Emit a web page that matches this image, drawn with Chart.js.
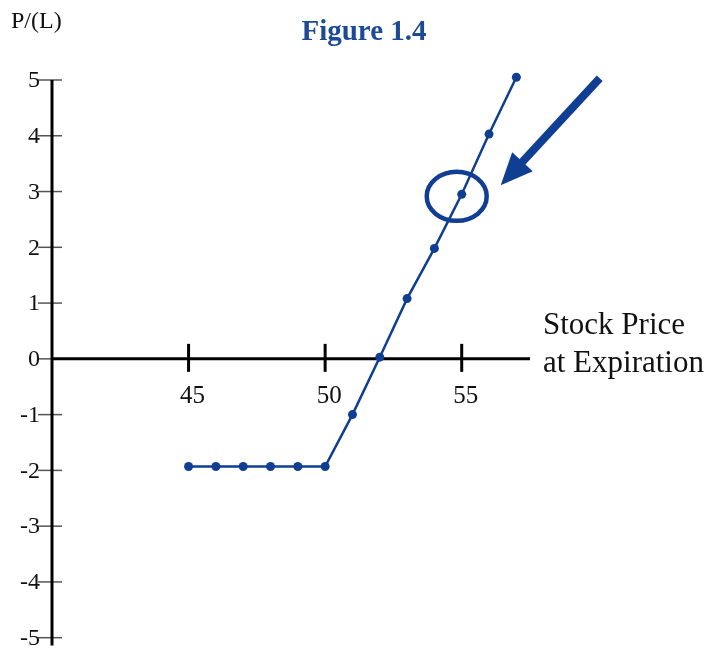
<!DOCTYPE html>
<html>
<head>
<meta charset="utf-8">
<script src="https://cdn.jsdelivr.net/npm/chart.js@4/dist/chart.umd.min.js"></script>
<style>
  html, body { margin: 0; padding: 0; background: #fff; }
  canvas { display: block; }
</style>
</head>
<body>
<canvas id="grafico" width="712" height="650"></canvas>
<script>
// DATOS
const precios = [45, 46, 47, 48, 49, 50, 51, 52, 53, 54, 55, 56, 57];
const gananciaPerdida = [-1.93, -1.93, -1.93, -1.93, -1.93, -1.93, -1.0, 0.03, 1.08, 1.98, 2.95, 4.03, 5.05];
const ticksY = [5, 4, 3, 2, 1, 0, -1, -2, -3, -4, -5];
const ticksX = [45, 50, 55];
const precioMarcado = 55;

const azul = '#0f3e92';
const fuente = '"Liberation Serif", "DejaVu Serif", serif';

// Ejes, etiquetas y marcas dibujados con las escalas del gráfico
const ejesPlugin = {
    id: 'ejes',
    beforeDatasetsDraw(chart) {
        const ctx = chart.ctx;
        const x = chart.scales.x;
        const y = chart.scales.y;
        const x0 = x.getPixelForValue(40);
        const y0 = y.getPixelForValue(0);
        ctx.save();

        // marcas del eje Y
        ctx.strokeStyle = '#555';
        ctx.lineWidth = 1.5;
        ticksY.forEach(v => {
            const py = y.getPixelForValue(v);
            ctx.beginPath();
            ctx.moveTo(x0 - 14, py);
            ctx.lineTo(x0 + 10, py);
            ctx.stroke();
        });

        // eje Y
        ctx.strokeStyle = '#000';
        ctx.lineWidth = 3;
        ctx.beginPath();
        ctx.moveTo(x0, y.getPixelForValue(5));
        ctx.lineTo(x0, chart.chartArea.bottom);
        ctx.stroke();

        // eje X
        ctx.beginPath();
        ctx.moveTo(x0, y0);
        ctx.lineTo(chart.chartArea.right, y0);
        ctx.stroke();

        ticksX.forEach(v => {
            const px = x.getPixelForValue(v);
            ctx.beginPath();
            ctx.moveTo(px, y0 - 15);
            ctx.lineTo(px, y0 + 13);
            ctx.stroke();
        });

        // textos
        ctx.fillStyle = '#111';
        ctx.font = '24px ' + fuente;
        ctx.textAlign = 'right';
        ctx.textBaseline = 'middle';
        ticksY.forEach(v => {
            ctx.fillText(String(v), x0 - 12, y.getPixelForValue(v) + 1);
        });

        ctx.textAlign = 'center';
        ctx.font = '25px ' + fuente;
        ticksX.forEach(v => {
            ctx.fillText(String(v), x.getPixelForValue(v) + 4, y0 + 38);
        });

        ctx.textAlign = 'left';
        ctx.font = '24px ' + fuente;
        ctx.fillText('P/(L)', 11, 22);

        ctx.font = '31px ' + fuente;
        ctx.textBaseline = 'alphabetic';
        ctx.fillText('Stock Price', 543, 334);
        ctx.fillText('at Expiration', 543, 372);

        ctx.fillStyle = '#1c4a97';
        ctx.font = 'bold 29px ' + fuente;
        ctx.textAlign = 'center';
        ctx.fillText('Figure 1.4', 364, 40);
        ctx.restore();
    },
    afterDatasetsDraw(chart) {
        const ctx = chart.ctx;
        const i = precios.indexOf(precioMarcado);
        const cx = chart.scales.x.getPixelForValue(precioMarcado) - 5;
        const cy = chart.scales.y.getPixelForValue(gananciaPerdida[i]) + 2;
        ctx.save();
        ctx.strokeStyle = azul;
        ctx.fillStyle = azul;

        // círculo alrededor del punto
        ctx.lineWidth = 4.5;
        ctx.beginPath();
        ctx.ellipse(cx, cy, 30, 24.5, 0, 0, Math.PI * 2);
        ctx.stroke();

        // flecha
        const inicio = { x: cx + 143, y: cy - 118 };
        const punta = { x: cx + 44, y: cy - 11 };
        const ang = Math.atan2(punta.y - inicio.y, punta.x - inicio.x);
        const largoPunta = 32;
        const base = { x: punta.x - largoPunta * Math.cos(ang), y: punta.y - largoPunta * Math.sin(ang) };
        ctx.lineWidth = 8;
        ctx.beginPath();
        ctx.moveTo(inicio.x, inicio.y);
        ctx.lineTo(base.x + 3 * Math.cos(ang), base.y + 3 * Math.sin(ang));
        ctx.stroke();
        const perp = ang + Math.PI / 2;
        ctx.beginPath();
        ctx.moveTo(punta.x, punta.y);
        ctx.lineTo(base.x + 14 * Math.cos(perp), base.y + 14 * Math.sin(perp));
        ctx.lineTo(base.x - 14 * Math.cos(perp), base.y - 14 * Math.sin(perp));
        ctx.closePath();
        ctx.fill();
        ctx.restore();
    }
};

const grafico = new Chart(document.getElementById('grafico').getContext('2d'), {
    type: 'line',
    data: {
        datasets: [{
            data: precios.map((p, i) => ({ x: p, y: gananciaPerdida[i] })),
            borderColor: azul,
            backgroundColor: azul,
            borderWidth: 2.5,
            pointRadius: 4.5,
            pointBorderWidth: 0,
            tension: 0,
            clip: false
        }]
    },
    options: {
        responsive: false,
        animation: false,
        layout: {
            padding: { left: 52, right: 182, top: 80, bottom: 2 }
        },
        plugins: {
            legend: { display: false },
            tooltip: { enabled: false },
            title: { display: false }
        },
        scales: {
            x: { type: 'linear', min: 40, max: 57.5, display: false },
            y: { type: 'linear', min: -5.14, max: 5, display: false }
        }
    },
    plugins: [ejesPlugin]
});
</script>
</body>
</html>
